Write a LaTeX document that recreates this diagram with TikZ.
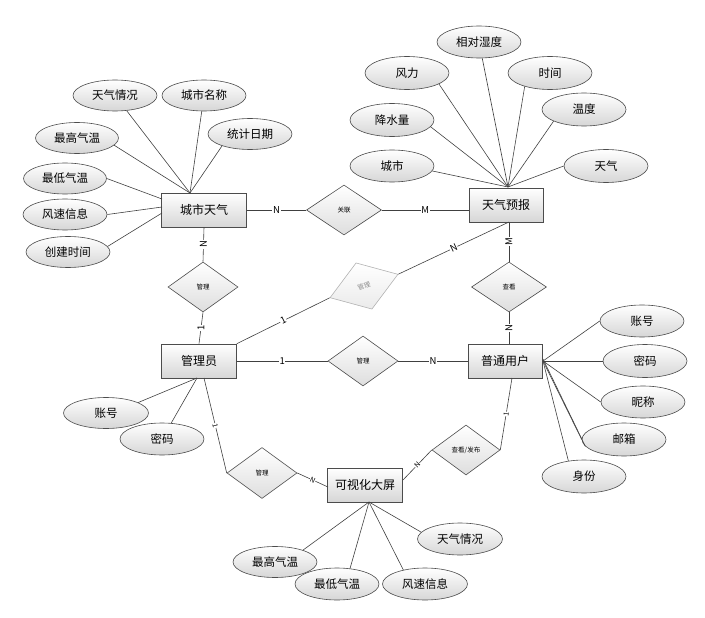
\documentclass[tikz,border=0pt]{standalone}
\usepackage{fontspec}
\setmainfont{Noto Sans CJK SC}
\usetikzlibrary{shapes.geometric}
\begin{document}
\begin{tikzpicture}[x=1pt,y=-1pt,
  ent/.style={draw=black!70, line width=0.6pt, rectangle, minimum width=74pt, minimum height=34pt, inner sep=0pt, top color=white, bottom color=black!16, font=\fontsize{12}{14}\selectfont},
  attr/.style={draw=black!70, line width=0.6pt, ellipse, minimum width=84pt, minimum height=31pt, inner sep=0pt, top color=white, bottom color=black!16, font=\fontsize{11.5}{13}\selectfont},
  rel/.style={draw=black!70, line width=0.6pt, diamond, minimum width=70pt, minimum height=50pt, inner sep=0pt, top color=white, bottom color=black!13, font=\fontsize{6.5}{8}\selectfont},
  grel/.style={draw=black!30, line width=0.6pt, diamond, minimum width=72pt, minimum height=49pt, inner sep=0pt, top color=white, bottom color=black!8, text=black!45, font=\fontsize{6.5}{8}\selectfont},
  lnk/.style={draw=black!75, line width=0.6pt},
  card/.style={fill=white, inner sep=0.6pt, font=\fontsize{9.5}{10}\selectfont},
  scard/.style={fill=white, inner sep=0.4pt, font=\fontsize{7}{8}\selectfont}
]
\useasboundingbox (0,0) rectangle (705,618);

% entities
\node[ent, minimum width=85pt] (csq) at (204,210) {城市天气};
\node[ent] (tqyb) at (506,205) {天气预报};
\node[ent, minimum width=75pt] (gly) at (199,361) {管理员};
\node[ent] (pt) at (505,361) {普通用户};
\node[ent, minimum width=75pt] (ksh) at (365,485) {可视化大屏};

% relationships
\node[rel, minimum width=75pt] (gl) at (344,210) {关联};
\node[rel] (glA) at (203,287) {管理};
\node[rel, minimum width=75pt] (ckA) at (509,287) {查看};
\node[rel] (glB) at (363,361) {管理};
\node[rel, minimum width=68pt] (ckfb) at (466,450) {查看/发布};
\node[rel, minimum width=70pt, minimum height=51pt] (glC) at (262,473) {管理};
\node[grel, rotate=19] (glG) at (364,286) {管理};

% attributes of 城市天气
\node[attr] (a1) at (115,95.5) {天气情况};
\node[attr] (a2) at (204,95.5) {城市名称};
\node[attr] (a3) at (250,134) {统计日期};
\node[attr, minimum width=83pt] (a4) at (77,138) {最高气温};
\node[attr, minimum width=83pt] (a5) at (65,178.5) {最低气温};
\node[attr] (a6) at (65,214.5) {风速信息};
\node[attr] (a7) at (68,252) {创建时间};

% attributes of 天气预报
\node[attr, minimum height=32pt] (b1) at (479,42) {相对湿度};
\node[attr, minimum height=33pt] (b2) at (407,73) {风力};
\node[attr, minimum height=33pt] (b3) at (550,73) {时间};
\node[attr, minimum height=33pt] (b4) at (584,109.5) {温度};
\node[attr, minimum height=33pt] (b5) at (392,120) {降水量};
\node[attr, minimum height=32pt] (b6) at (392,166) {城市};
\node[attr, minimum height=33pt] (b7) at (606,166) {天气};

% attributes of 管理员
\node[attr, minimum width=85pt] (c1) at (106,413) {账号};
\node[attr, minimum height=32pt] (c2) at (162,439) {密码};

% attributes of 普通用户
\node[attr, minimum height=32pt] (d1) at (642,321) {账号};
\node[attr, minimum height=33pt] (d2) at (645,361) {密码};
\node[attr, minimum height=32pt] (d3) at (643,402) {昵称};
\node[attr, minimum height=33pt] (d4) at (624,439.5) {邮箱};
\node[attr, minimum height=33pt] (d5) at (584,476.5) {身份};

% attributes of 可视化大屏
\node[attr] (e1) at (275,562) {最高气温};
\node[attr, minimum height=32pt] (e2) at (337,584) {最低气温};
\node[attr, minimum width=85pt, minimum height=32pt] (e3) at (425,584) {风速信息};
\node[attr, minimum width=85pt, minimum height=32pt] (e4) at (460,539) {天气情况};

% convergence points
\coordinate (pA) at (190,193);
\coordinate (pA1) at (162,199);
\coordinate (pA2) at (162,207);
\coordinate (pA3) at (162,213);
\coordinate (pB) at (508,187);
\coordinate (pC) at (543,361);
\coordinate (pD) at (369,502);
\coordinate (pE) at (197,378);
\coordinate (pF) at (204,378);
\coordinate (pG) at (512,378);
\coordinate (pH) at (403,480);
\coordinate (pI) at (328,487);
\coordinate (pJ) at (509,222);

% attribute links
\draw[lnk] (a1) -- (pA);
\draw[lnk] (a2) -- (pA);
\draw[lnk] (a3.203) -- (pA);
\draw[lnk] (a4.-11) -- (pA);
\draw[lnk] (a5.east) -- (pA1);
\draw[lnk] (a6.east) -- (pA2);
\draw[lnk] (a7.8) -- (pA3);

\draw[lnk] (b1) -- (pB);
\draw[lnk] (b2.-19) -- (pB);
\draw[lnk] (b3.208) -- (pB);
\draw[lnk] (b4.201) -- (pB);
\draw[lnk] (b5.-10) -- (pB);
\draw[lnk] (b6.-7) -- (pB);
\draw[lnk] (b7.west) -- (pB);

\draw[lnk] (c1.18) -- (pE);
\draw[lnk] (c2.60) -- (pE);

\draw[lnk] (d1.west) -- (pC);
\draw[lnk] (d2.west) -- (pC);
\draw[lnk] (d3.west) -- (pC);
\draw[lnk] (d4.west) -- (pC);
\draw[lnk] (d4.190) -- ([yshift=2pt]pC);
\draw[lnk] (d5.135) -- (pC);

\draw[lnk] (e1.23) -- (pD);
\draw[lnk] (e2.50) -- (pD);
\draw[lnk] (e3.147) -- (pD);
\draw[lnk] (e4.170) -- (pD);

% relationship links
\draw[lnk] (csq.east) -- node[card]{N} (gl.west);
\draw[lnk] (gl.east) -- node[card]{M} (tqyb.west |- gl.east);
\draw[lnk] (csq.south) -- node[card, rotate=90]{N} (glA.north);
\draw[lnk] (glA.south) -- node[card, rotate=90]{1} (gly.north);
\draw[lnk] (pJ) -- node[card, rotate=90]{M} (ckA.north);
\draw[lnk] (ckA.south) -- node[card, rotate=90]{N} (pt.north -| ckA.south);
\draw[lnk] (gly.north east) -- node[card, sloped]{1} (glG.west);
\draw[lnk] (glG.east) -- node[card, sloped]{N} (pJ);
\draw[lnk] (gly.east) -- node[card]{1} (glB.west);
\draw[lnk] (glB.east) -- node[card]{N} (pt.west);
\draw[lnk] (pF) -- node[scard, sloped]{1} (glC.west);
\draw[lnk] (glC.east) -- node[scard, sloped]{N} (pI);
\draw[lnk] (pG) -- node[scard, sloped]{1} (ckfb.east);
\draw[lnk] (ckfb.west) -- node[scard, sloped]{N} (pH);
\end{tikzpicture}
\end{document}
